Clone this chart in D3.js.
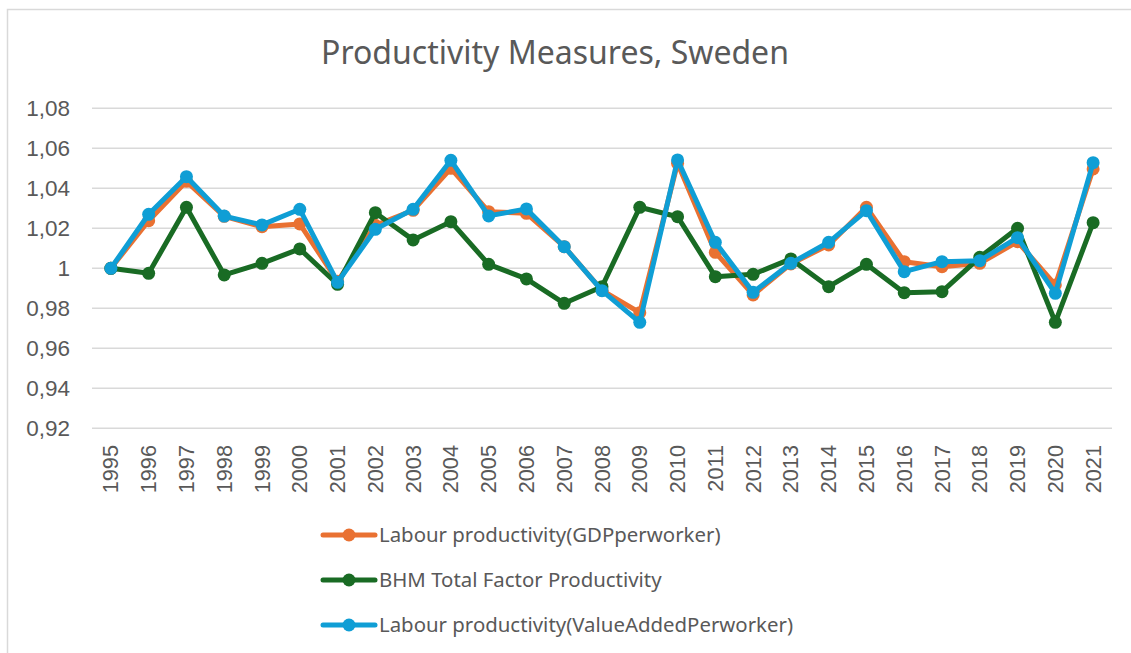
<!DOCTYPE html>
<html>

<head>
    <title>Productivity Measures, Sweden</title>
    <script src="https://cdnjs.cloudflare.com/ajax/libs/d3/7.8.5/d3.min.js" type="text/JavaScript"></script>
    <style>
        body { margin: 0; background: #fff; }
        svg { display: block; }
    </style>
</head>

<body>
    <div id="viz">
        <svg style="width: 1131px; height: 653px;"></svg>
    </div>
    <script>
        var years = ["1995", "1996", "1997", "1998", "1999", "2000", "2001", "2002", "2003", "2004",
            "2005", "2006", "2007", "2008", "2009", "2010", "2011", "2012", "2013", "2014",
            "2015", "2016", "2017", "2018", "2019", "2020", "2021"]

        var gdpPerWorker = [1.000, 1.0238, 1.0435, 1.026, 1.0208, 1.0222, 0.9935, 1.0215, 1.029, 1.0500,
            1.0283, 1.0275, 1.0108, 0.989, 0.9778, 1.0525, 1.008, 0.9867, 1.0022, 1.0117,
            1.0305, 1.0033, 1.0008, 1.0025, 1.0133, 0.9917, 1.0497]

        var bhmTfp = [1.000, 0.9975, 1.0305, 0.9967, 1.0025, 1.0097, 0.992, 1.0278, 1.0142, 1.0233,
            1.002, 0.9947, 0.9825, 0.9908, 1.0305, 1.0258, 0.9958, 0.997, 1.0047, 0.9908,
            1.002, 0.9878, 0.9883, 1.0055, 1.020, 0.973, 1.0228]

        var valueAddedPerWorker = [1.000, 1.027, 1.0458, 1.0261, 1.0217, 1.0295, 0.993, 1.0195, 1.0295, 1.054,
            1.0262, 1.0297, 1.0108, 0.9888, 0.973, 1.0542, 1.013, 0.988, 1.0025, 1.013,
            1.0288, 0.9983, 1.0033, 1.0038, 1.0153, 0.9875, 1.0528]

        var seriesNames = ["Labour productivity(GDPperworker)", "BHM Total Factor Productivity",
            "Labour productivity(ValueAddedPerworker)"]
        var seriesColors = ["#E97132", "#196B24", "#0F9ED5"]
        var yTicks = [0.92, 0.94, 0.96, 0.98, 1, 1.02, 1.04, 1.06, 1.08]

        var series = [gdpPerWorker, bhmTfp, valueAddedPerWorker].map((vals, i) => ({
            name: seriesNames[i],
            color: seriesColors[i],
            values: vals.map((v, j) => ({ year: years[j], value: v }))
        }))

        var svg = d3.select("svg")
        var textColor = "#595959"

        // chart frame
        svg.append("rect")
            .attr("x", 7.5).attr("y", 9.5)
            .attr("width", 1140).attr("height", 660)
            .style("fill", "white")
            .style("stroke", "#D9D9D9")
            .style("stroke-width", "1.5px")

        svg.append("text")
            .attr("x", 555).attr("y", 64)
            .style("text-anchor", "middle")
            .style("font-family", "'Noto Sans', sans-serif")
            .style("font-size", "32px")
            .style("fill", textColor)
            .text("Productivity Measures, Sweden")

        var x = d3.scaleBand()
            .domain(years)
            .range([92, 1112])

        var y = d3.scaleLinear()
            .domain([0.92, 1.08])
            .range([428.3, 108.3])

        var fmt = d => d3.format(".2f")(d).replace(/\.?0+$/, "").replace(".", ",")

        // gridlines
        svg.append("g")
            .selectAll("line")
            .data(yTicks)
            .enter().append("line")
            .attr("x1", 92).attr("x2", 1112)
            .attr("y1", d => y(d)).attr("y2", d => y(d))
            .style("stroke", "#D9D9D9")
            .style("stroke-width", "1.5px")

        // y labels
        svg.append("g")
            .selectAll("text")
            .data(yTicks)
            .enter().append("text")
            .attr("x", 70)
            .attr("y", d => y(d))
            .attr("dy", "0.35em")
            .style("text-anchor", "end")
            .style("font-family", "'Liberation Sans', Arial, sans-serif")
            .style("font-size", "22.5px")
            .style("fill", textColor)
            .text(fmt)

        // x labels
        svg.append("g")
            .selectAll("text")
            .data(years)
            .enter().append("text")
            .attr("transform", d => `translate(${x(d) + x.bandwidth() / 2},445) rotate(-90)`)
            .attr("dy", "0.35em")
            .style("text-anchor", "end")
            .style("font-family", "'Liberation Sans', Arial, sans-serif")
            .style("font-size", "21.7px")
            .style("fill", textColor)
            .text(d => d)

        var line = d3.line()
            .x(d => x(d.year) + x.bandwidth() / 2)
            .y(d => y(d.value))

        var seriesG = svg.append("g")
            .selectAll("g")
            .data(series)
            .enter().append("g")

        seriesG.append("path")
            .attr("d", d => line(d.values))
            .style("fill", "none")
            .style("stroke", d => d.color)
            .style("stroke-width", "5px")
            .style("stroke-linejoin", "round")

        seriesG.selectAll("circle")
            .data(d => d.values.map(v => Object.assign({ color: d.color }, v)))
            .enter().append("circle")
            .attr("cx", d => x(d.year) + x.bandwidth() / 2)
            .attr("cy", d => y(d.value))
            .attr("r", 6.5)
            .style("fill", d => d.color)

        // legend
        var legend = svg.append("g")
            .selectAll("g")
            .data(series)
            .enter().append("g")
            .attr("transform", (d, i) => `translate(323,${535 + i * 45})`)

        legend.append("line")
            .attr("x1", 0).attr("x2", 52)
            .style("stroke", d => d.color)
            .style("stroke-width", "5px")
            .style("stroke-linecap", "round")

        legend.append("circle")
            .attr("cx", 26)
            .attr("r", 6.5)
            .style("fill", d => d.color)

        legend.append("text")
            .attr("x", 56)
            .attr("dy", "0.35em")
            .style("font-family", "'Noto Sans', sans-serif")
            .style("font-size", "20.4px")
            .style("fill", textColor)
            .text(d => d.name)
    </script>
</body>

</html>
